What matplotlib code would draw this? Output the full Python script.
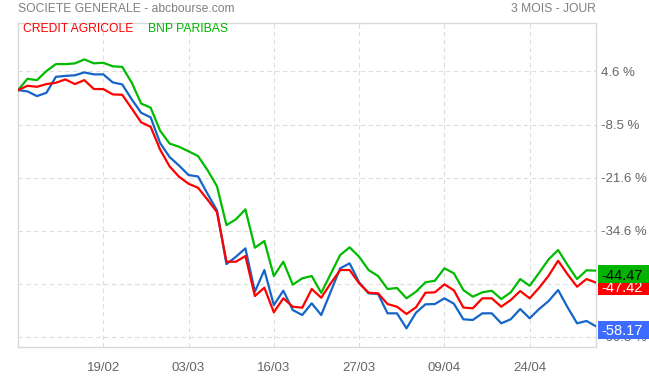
import numpy as np
import matplotlib.pyplot as plt
import matplotlib.transforms as mtransforms
from matplotlib.patches import Rectangle

plt.rcParams['font.family'] = ['Liberation Sans', 'DejaVu Sans']

# performance in % since start (daily, 3 months)
credit_agricole = [0, 1.06, 0.81, 1.48, 1.80, 2.63, 1.48, 2.46, 0.27, 0.25,
                   -1.06, -1.16, -4.51, -7.95, -9.04, -14.67, -18.79, -21.35, -23.07, -24.05,
                   -26.96, -30.08, -42.27, -42.27, -40.87, -50.72, -48.67, -54.73, -51.28, -53.35,
                   -53.60, -48.99, -51.14, -47.59, -44.32, -44.32, -47.59, -49.91, -50.05, -52.69,
                   -53.35, -55.15, -53.50, -49.91, -49.81, -47.84, -49.31, -53.55, -53.75, -51.28,
                   -51.28, -53.35, -51.70, -49.49, -51.28, -48.67, -45.72, -42.03, -45.38, -48.43,
                   -46.53, -47.42]
bnp_paribas = [0, 2.78, 2.46, 4.68, 6.40, 6.40, 6.57, 7.56, 6.60, 6.72,
               5.86, 5.71, 1.85, -3.32, -4.33, -10.02, -13.17, -13.96, -15.07, -16.25,
               -19.70, -23.68, -33.24, -31.83, -29.37, -38.82, -37.18, -45.79, -42.27, -47.93,
               -46.36, -45.79, -49.93, -45.30, -40.62, -38.73, -41.04, -44.32, -45.79, -48.99,
               -48.75, -51.28, -49.66, -47.34, -46.95, -43.89, -45.12, -49.24, -50.89, -49.81,
               -49.41, -51.46, -49.81, -46.54, -48.19, -44.98, -41.68, -39.39, -43.08, -46.54,
               -44.39, -44.47]
societe_generale = [0, -0.32, -1.48, -0.66, 3.27, 3.50, 3.64, 4.36, 3.87, 3.87,
                    1.90, 1.40, -2.27, -5.59, -6.72, -13.05, -16.50, -18.59, -20.93, -21.27,
                    -25.53, -29.64, -42.85, -41.05, -38.98, -49.66, -44.32, -52.94, -49.41, -54.17,
                    -55.40, -52.52, -55.40, -49.66, -43.90, -42.67, -47.35, -50.05, -50.23, -54.98,
                    -54.98, -58.68, -54.83, -52.76, -52.69, -51.28, -52.61, -56.45, -56.62, -54.98,
                    -54.98, -57.44, -56.45, -53.92, -56.21, -53.92, -51.95, -49.24, -53.50, -57.44,
                    -56.87, -58.17]

date_ticks = [9, 18, 27, 36, 45, 54]
date_labels = ['19/02', '03/03', '16/03', '27/03', '09/04', '24/04']
y_ticks = [4.6, -8.5, -21.6, -34.6, -47.7, -60.8]

days = np.arange(len(societe_generale))

fig = plt.figure(figsize=(6.49, 3.77), dpi=100)
ax = fig.add_axes([18 / 649, 1 - 346.7 / 377, 578 / 649, 324 / 377])

c_red = '#ff0000'
c_green = '#00bb00'
c_blue = '#1565c8'
ax.plot(days, bnp_paribas, color=c_green, lw=1.6, zorder=3)
ax.plot(days, societe_generale, color=c_blue, lw=1.6, zorder=3)
ax.plot(days, credit_agricole, color=c_red, lw=1.6, zorder=4)

ymin, ymax = -63.2, 16.6
ax.set_xlim(0, len(days) - 1)
ax.set_ylim(ymin, ymax)

ax.set_xticks(date_ticks)
ax.set_xticklabels(date_labels)
ax.set_yticks(y_ticks)
ax.set_yticklabels(['%.1f %%' % t for t in y_ticks])
ax.yaxis.tick_right()
ax.tick_params(axis='y', length=0, pad=3.5, labelsize=9.5, labelcolor='#666666')
ax.tick_params(axis='x', length=0, pad=11, labelsize=9.5, labelcolor='#666666')
ax.grid(True, color='#dddddd', ls=(0, (4, 3)), lw=0.8)
for s in ax.spines.values():
    s.set_color('#d8d8d8')
    s.set_linewidth(1)

# title and legend texts
fig.text(18 / 649, 1 - 9 / 377, 'SOCIETE GENERALE - abcbourse.com', color='#808080',
         fontsize=8.7, va='center', ha='left')
fig.text(596 / 649, 1 - 9 / 377, '3 MOIS - JOUR', color='#808080',
         fontsize=8.7, va='center', ha='right')
fig.text(23 / 649, 1 - 29 / 377, 'CREDIT AGRICOLE', color=c_red,
         fontsize=8.7, va='center', ha='left')
fig.text(148 / 649, 1 - 29 / 377, 'BNP PARIBAS', color='#00b400',
         fontsize=8.7, va='center', ha='left')

# last value boxes, a bit below the last value, stretched to the figure edge
shift = mtransforms.ScaledTranslation(0, -0.037, fig.dpi_scale_trans)
trans = mtransforms.blended_transform_factory(fig.transFigure, ax.transData) + shift
box_h = 18 * (ymax - ymin) / 324
boxes = [(credit_agricole[-1], '#ff0000', 'white', 10),
         (bnp_paribas[-1], '#00b400', 'black', 11),
         (societe_generale[-1], '#3d6bff', 'white', 12)]
for val, bg, fg, z in boxes:
    r = Rectangle((598 / 649, val - box_h / 2), 51 / 649, box_h, transform=trans,
                  facecolor=bg, edgecolor='none', zorder=z, clip_on=False)
    fig.add_artist(r)
    fig.text(601 / 649, val, '%.2f' % val, transform=trans, ha='left', va='center_baseline',
             fontsize=10.5, color=fg, zorder=z + 0.5)

fig.savefig('out.png', dpi=100)
